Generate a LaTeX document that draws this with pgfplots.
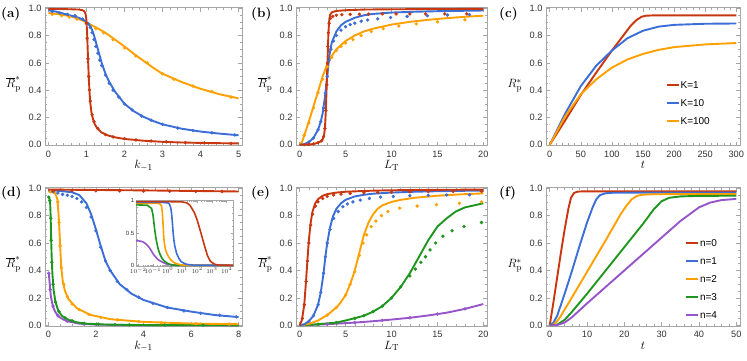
\documentclass[border=0pt]{standalone}
\usepackage{fontspec}
\newfontfamily\sans{Liberation Sans}
\usepackage{pgfplots}
\pgfplotsset{compat=1.18}

\definecolor{cR}{RGB}{200,55,15}
\definecolor{cB}{RGB}{60,110,215}
\definecolor{cO}{RGB}{255,160,0}
\definecolor{cG}{RGB}{30,150,30}
\definecolor{cP}{RGB}{150,85,200}

\pgfplotsset{
  panel/.style={
    scale only axis, anchor=south west,
    ymin=-0.005, ymax=1.005,
    ytick={0,0.2,0.4,0.6,0.8,1},
    yticklabels={0.0,0.2,0.4,0.6,0.8,1.0},
    minor y tick num=3,
    tick align=inside,
    major tick length=4pt, minor tick length=2.2pt,
    axis line style={black!35},
    every tick/.append style={black!35, line width=0.5pt},
    tick label style={font=\sans\fontsize{9.2}{10}\selectfont, text=black!80},
    xticklabel style={yshift=-2pt},
    label style={font=\fontsize{12.5}{15}\selectfont},
    xlabel style={at={(axis description cs:0.5,0)}, anchor=base, yshift=-23pt},
    ylabel style={rotate=-90, at={(axis description cs:-0.105,0.42)}, anchor=base east},
    legend style={draw=none, fill=none, anchor=north west,
      font=\sans\fontsize{10}{11}\selectfont, row sep=9pt,
      nodes={inner sep=1pt, text height=7pt, text depth=0pt}},
    legend cell align=left,
    legend image code/.code={\draw[##1, line width=2pt] (0pt,0pt) -- (12pt,0pt);},
  },
  ln/.style={line width=1.9pt, line join=round, mark=none},
  dt/.style={only marks, mark=*, mark size=1.5pt, forget plot},
}

\begin{document}
\begin{tikzpicture}
\useasboundingbox (0pt,0pt) rectangle (747pt,-360pt);

% ---------------- (a)
\begin{axis}[panel, at={(45pt,-145.5pt)}, width=197pt, height=138pt,
  xmin=-0.09, xmax=5.09, xtick={0,1,2,3,4,5}, xticklabels={0,1,2,3,4,5},
  minor x tick num=4,
  xlabel={$k_{-1}$}, ylabel={$\overline{R}^{*}_{\mathrm{p}}$}]
\addplot[ln, cO] coordinates {(0,0.965)(0.3,0.955)(0.6,0.94)(0.9,0.91)(1.0,0.895)(1.25,0.86)(1.5,0.82)(1.75,0.77)(2,0.72)(2.25,0.665)(2.5,0.615)(2.75,0.565)(3,0.52)(3.5,0.46)(4,0.41)(4.5,0.37)(5,0.34)};
\addplot[ln, cB] coordinates {(0,0.985)(0.2,0.975)(0.4,0.96)(0.6,0.945)(0.8,0.93)(0.95,0.91)(1.05,0.885)(1.1,0.87)(1.15,0.84)(1.2,0.8)(1.3,0.7)(1.4,0.6)(1.5,0.52)(1.6,0.46)(1.75,0.39)(2,0.3)(2.25,0.245)(2.5,0.205)(2.75,0.175)(3,0.15)(3.5,0.118)(4,0.097)(4.5,0.082)(5,0.07)};
\addplot[ln, cR] coordinates {(0,0.995)(0.3,0.994)(0.6,0.992)(0.8,0.99)(0.9,0.985)(0.95,0.975)(0.98,0.955)(1.0,0.91)(1.02,0.8)(1.04,0.64)(1.06,0.5)(1.08,0.39)(1.1,0.31)(1.13,0.24)(1.17,0.19)(1.22,0.15)(1.3,0.115)(1.4,0.09)(1.55,0.07)(1.75,0.055)(2,0.043)(2.5,0.03)(3,0.022)(3.5,0.017)(4,0.014)(4.5,0.012)(5,0.01)};
\addplot[dt, cO] coordinates {(0.1,0.955)(0.35,0.945)(0.55,0.935)(0.75,0.92)(1.0,0.885)(1.25,0.85)(1.45,0.82)(1.7,0.77)(2.0,0.71)(2.3,0.65)(2.6,0.6)(3.0,0.52)(3.3,0.48)(3.8,0.43)(4.3,0.39)(4.8,0.35)};
\addplot[dt, cB] coordinates {(0.1,0.975)(0.3,0.965)(0.5,0.955)(0.7,0.945)(0.9,0.92)(1.05,0.885)(1.1,0.86)(1.15,0.82)(1.2,0.77)(1.25,0.72)(1.3,0.67)(1.35,0.62)(1.4,0.58)(1.5,0.51)(1.6,0.45)(1.7,0.4)(1.85,0.35)(2,0.3)(2.2,0.255)(2.45,0.21)(2.7,0.18)(3,0.15)(3.4,0.123)(3.8,0.104)(4.3,0.088)(4.9,0.072)};
\addplot[dt, cR] coordinates {(1.0,0.89)(1.02,0.78)(1.04,0.63)(1.06,0.5)(1.08,0.4)(1.1,0.32)(1.15,0.22)(1.2,0.17)(1.3,0.12)(1.5,0.075)(1.7,0.058)(2,0.045)(2.3,0.036)(2.7,0.028)(3.1,0.022)(3.6,0.017)(4.1,0.014)(4.8,0.011)};
\end{axis}

% ---------------- (b)
\begin{axis}[panel, at={(296pt,-145.5pt)}, width=191pt, height=138pt,
  xmin=-0.4, xmax=20.4, xtick={0,5,10,15,20}, xticklabels={0,5,10,15,20},
  minor x tick num=4,
  xlabel={$L_{\mathrm{T}}$}, ylabel={$\overline{R}^{*}_{\mathrm{p}}$}]
\addplot[ln, cO] coordinates {(0,0)(0.25,0.02)(0.5,0.07)(1,0.17)(1.5,0.28)(2,0.39)(2.5,0.5)(3,0.59)(3.5,0.65)(4,0.7)(5,0.76)(6,0.8)(7,0.83)(8,0.85)(10,0.88)(12,0.9)(14,0.915)(16,0.927)(18,0.937)(20,0.945)};
\addplot[ln, cB] coordinates {(0,0)(0.5,0.005)(1,0.02)(1.5,0.05)(2,0.11)(2.3,0.17)(2.5,0.23)(2.75,0.35)(3,0.5)(3.1,0.57)(3.25,0.66)(3.5,0.75)(4,0.83)(4.5,0.875)(5,0.9)(6,0.93)(7,0.948)(8,0.958)(10,0.968)(12.5,0.974)(15,0.978)(20,0.983)};
\addplot[ln, cR] coordinates {(0,0)(1,0.002)(1.5,0.006)(2,0.015)(2.3,0.025)(2.5,0.04)(2.65,0.07)(2.75,0.12)(2.85,0.25)(2.95,0.45)(3.05,0.65)(3.12,0.8)(3.2,0.9)(3.3,0.95)(3.5,0.97)(4,0.98)(5,0.985)(7,0.99)(10,0.992)(15,0.994)(20,0.995)};
\addplot[dt, cO] coordinates {(0.5,0.07)(1,0.16)(1.5,0.27)(2,0.38)(2.5,0.48)(3,0.57)(3.5,0.64)(4,0.69)(4.5,0.72)(5,0.745)(5.8,0.77)(6.7,0.8)(7.8,0.83)(9.1,0.85)(10.8,0.87)(12.7,0.885)(15,0.9)(18,0.915)};
\addplot[dt, cB] coordinates {(1,0.02)(1.5,0.05)(2,0.11)(2.3,0.17)(2.6,0.27)(2.8,0.38)(3,0.5)(3.2,0.62)(3.4,0.7)(3.7,0.76)(4,0.8)(4.5,0.84)(5,0.865)(5.5,0.88)(6,0.89)(6.7,0.905)(7.4,0.913)(8.5,0.922)(9.9,0.932)(11.7,0.94)(13.9,0.945)(16.1,0.95)(18.5,0.953)};
\addplot[dt, cR] coordinates {(0.5,0.001)(1,0.003)(1.5,0.007)(2,0.016)(2.4,0.03)(2.6,0.06)(2.75,0.12)(2.85,0.25)(2.95,0.44)(3.03,0.6)(3.08,0.72)(3.13,0.82)(3.2,0.89)(3.35,0.925)(3.6,0.94)(4,0.948)(4.6,0.952)(5.5,0.955)(6.5,0.956)(7.5,0.957)(9,0.958)(10.5,0.958)(12,0.958)(13.7,0.958)(15.8,0.958)(18.2,0.958)};
\end{axis}

% ---------------- (c)
\begin{axis}[panel, at={(546pt,-145.5pt)}, width=194pt, height=138pt,
  xmin=-6, xmax=306, xtick={0,50,100,150,200,250,300},
  xticklabels={0,50,100,150,200,250,300}, minor x tick num=4,
  xlabel={$t$}, ylabel={$R^{*}_{\mathrm{p}}$},
  legend style={at={(axis description cs:0.6,0.49)}}]
\addplot[ln, cR] coordinates {(0,0)(25,0.18)(50,0.365)(75,0.53)(100,0.69)(115,0.78)(130,0.87)(140,0.915)(148,0.938)(155,0.945)(165,0.947)(300,0.947)};
\addlegendentry{K=1}
\addplot[ln, cB] coordinates {(0,0)(25,0.23)(50,0.43)(75,0.58)(100,0.69)(125,0.78)(150,0.835)(175,0.865)(200,0.878)(250,0.886)(300,0.888)};
\addlegendentry{K=10}
\addplot[ln, cO] coordinates {(0,0)(25,0.21)(50,0.37)(75,0.48)(100,0.565)(125,0.625)(150,0.665)(175,0.695)(200,0.715)(250,0.735)(300,0.745)};
\addlegendentry{K=100}
\end{axis}

% ---------------- (d)
\begin{axis}[panel, at={(45pt,-326pt)}, width=197pt, height=138.5pt,
  xmin=-0.14, xmax=8.14, xtick={0,2,4,6,8}, xticklabels={0,2,4,6,8},
  minor x tick num=3,
  xlabel={$k_{-1}$}, ylabel={$\overline{R}^{*}_{\mathrm{p}}$}]
\addplot[ln, cP] coordinates {(0.01,0.38)(0.03,0.36)(0.06,0.3)(0.1,0.22)(0.15,0.17)(0.22,0.125)(0.3,0.095)(0.43,0.065)(0.6,0.045)(0.8,0.03)(1.3,0.012)(2,0.005)(4,0.001)(8,0)};
\addplot[ln, cG] coordinates {(0.01,0.935)(0.04,0.93)(0.08,0.88)(0.1,0.78)(0.12,0.62)(0.14,0.5)(0.17,0.38)(0.22,0.26)(0.3,0.17)(0.43,0.1)(0.6,0.065)(0.85,0.04)(1.2,0.022)(1.6,0.012)(2.5,0.005)(4,0.002)(8,0)};
\addplot[ln, cO] coordinates {(0.01,0.975)(0.2,0.97)(0.3,0.96)(0.38,0.92)(0.43,0.81)(0.47,0.68)(0.5,0.57)(0.54,0.43)(0.6,0.33)(0.7,0.25)(0.85,0.19)(1.2,0.125)(1.75,0.077)(2.6,0.045)(4,0.025)(6,0.013)(8,0.008)};
\addplot[ln, cB] coordinates {(0,0.985)(0.5,0.98)(1,0.97)(1.3,0.95)(1.6,0.89)(1.8,0.81)(2,0.7)(2.2,0.58)(2.4,0.47)(2.6,0.4)(3,0.3)(3.5,0.23)(4,0.185)(5,0.13)(6,0.1)(7,0.075)(8,0.06)};
\addplot[ln, cR] coordinates {(0,0.99)(2,0.987)(4,0.984)(6,0.98)(8,0.976)};
\addplot[dt, cP] coordinates {(0.02,0.38)(0.08,0.26)(0.2,0.14)(0.4,0.07)(0.8,0.03)(1.5,0.01)};
\addplot[dt, cG] coordinates {(0.02,0.935)(0.06,0.91)(0.1,0.78)(0.12,0.62)(0.15,0.46)(0.2,0.3)(0.3,0.17)(0.45,0.1)(0.7,0.055)(1.0,0.033)(1.5,0.015)(2.1,0.008)(2.8,0.005)(3.4,0.003)(4.9,0.002)(6.5,0.001)};
\addplot[dt, cO] coordinates {(0.1,0.975)(0.25,0.97)(0.4,0.9)(0.45,0.75)(0.5,0.58)(0.55,0.42)(0.65,0.3)(0.8,0.21)(1.0,0.155)(1.3,0.115)(1.7,0.08)(2.2,0.058)(2.9,0.04)(3.8,0.027)(4.75,0.018)(6.2,0.012)(7.6,0.009)};
\addplot[dt, cB] coordinates {(0.2,0.975)(0.4,0.965)(0.6,0.955)(0.8,0.948)(1.0,0.94)(1.2,0.925)(1.4,0.9)(1.6,0.86)(1.8,0.79)(2.0,0.69)(2.2,0.57)(2.4,0.47)(2.6,0.4)(2.9,0.32)(3.3,0.26)(3.8,0.205)(4.4,0.16)(5,0.13)(5.7,0.105)(6.4,0.088)(7.2,0.074)(7.9,0.062)};
\addplot[dt, cR] coordinates {(0.2,0.982)(1,0.982)(2,0.981)(3,0.98)(4,0.979)(5.1,0.978)(6.2,0.977)(7.3,0.976)};
\end{axis}

% inset of (d)
\begin{axis}[scale only axis, anchor=south west, at={(136pt,-266pt)},
  width=97pt, height=66pt, xmode=log, xmin=0.007, xmax=27000,
  ymin=-0.01, ymax=1.01,
  axis background/.style={fill=white},
  xtick={0.01,0.1,1,10,100,1000,10000},
  xticklabels={$10^{-2}$,$10^{-1}$,$10^{0}$,$10^{1}$,$10^{2}$,$10^{3}$,$10^{4}$},
  ytick={0,0.5,1}, yticklabels={0,0.5,1}, minor y tick num=4,
  tick align=inside, major tick length=2.5pt, minor tick length=1.5pt,
  axis line style={black!35},
  every tick/.append style={black!35, line width=0.4pt},
  tick label style={font=\sans\fontsize{6}{7}\selectfont, text=black!80, inner sep=1.5pt},
  ]
\addplot[line width=1.6pt, cP] coordinates {(0.007,0.38)(0.01,0.38)(0.02,0.365)(0.03,0.34)(0.05,0.29)(0.08,0.22)(0.1,0.18)(0.15,0.13)(0.22,0.09)(0.3,0.07)(0.43,0.05)(0.6,0.035)(0.8,0.022)(1.3,0.01)(2,0.004)(4,0.001)(10,0)(27000,0)};
\addplot[line width=1.6pt, cG] coordinates {(0.007,0.935)(0.04,0.93)(0.08,0.88)(0.1,0.78)(0.12,0.62)(0.14,0.5)(0.17,0.38)(0.22,0.26)(0.3,0.17)(0.43,0.1)(0.6,0.065)(0.85,0.04)(1.2,0.022)(1.6,0.012)(2.5,0.005)(4,0.002)(10,0)(27000,0)};
\addplot[line width=1.6pt, cO] coordinates {(0.007,0.96)(0.2,0.958)(0.3,0.95)(0.38,0.92)(0.43,0.81)(0.47,0.68)(0.5,0.57)(0.54,0.43)(0.6,0.33)(0.7,0.25)(0.85,0.19)(1.2,0.125)(1.75,0.077)(2.6,0.045)(4,0.025)(8,0.008)(20,0.002)(27000,0)};
\addplot[line width=1.6pt, cB] coordinates {(0.007,0.975)(0.1,0.975)(0.5,0.972)(1,0.965)(1.3,0.95)(1.6,0.89)(1.8,0.81)(2,0.7)(2.2,0.58)(2.4,0.47)(2.6,0.4)(3,0.3)(4,0.185)(6,0.1)(8,0.06)(12,0.035)(20,0.015)(50,0.004)(27000,0)};
\addplot[line width=1.6pt, cR] coordinates {(0.007,0.985)(1,0.985)(10,0.98)(20,0.965)(32,0.93)(63,0.82)(100,0.7)(180,0.5)(316,0.3)(500,0.15)(800,0.06)(1600,0.015)(3000,0.004)(27000,0)};
\end{axis}

% ---------------- (e)
\begin{axis}[panel, at={(296pt,-326pt)}, width=191pt, height=138.5pt,
  xmin=-0.4, xmax=20.4, xtick={0,5,10,15,20}, xticklabels={0,5,10,15,20},
  minor x tick num=4,
  xlabel={$L_{\mathrm{T}}$}, ylabel={$\overline{R}^{*}_{\mathrm{p}}$}]
\addplot[ln, cP] coordinates {(0,0)(2,0.005)(4,0.012)(6,0.02)(8,0.03)(10,0.042)(12,0.055)(14,0.072)(16,0.092)(18,0.12)(20,0.155)};
\addplot[ln, cG] coordinates {(0,0)(2,0.008)(4,0.02)(5,0.035)(7,0.07)(8,0.1)(9,0.14)(10,0.2)(11,0.28)(12,0.38)(13,0.5)(14,0.62)(15,0.72)(16,0.78)(17,0.83)(18,0.86)(19,0.875)(20,0.89)};
\addplot[ln, cO] coordinates {(0,0)(1,0.01)(2,0.035)(3,0.075)(4,0.13)(4.5,0.17)(5,0.22)(5.5,0.3)(6,0.4)(6.5,0.53)(7,0.66)(7.5,0.75)(8,0.81)(8.5,0.85)(9,0.875)(10,0.9)(11,0.915)(12.5,0.93)(15,0.945)(17.5,0.955)(20,0.962)};
\addplot[ln, cB] coordinates {(0,0)(0.5,0.008)(1,0.03)(1.5,0.07)(2,0.15)(2.3,0.24)(2.6,0.38)(2.8,0.5)(3,0.6)(3.3,0.71)(3.6,0.79)(4,0.85)(4.5,0.89)(5,0.915)(6,0.94)(7,0.952)(8,0.96)(10,0.968)(12.5,0.974)(15,0.978)(20,0.983)};
\addplot[ln, cR] coordinates {(0,0)(0.25,0.04)(0.5,0.15)(0.7,0.33)(0.85,0.48)(1,0.62)(1.2,0.75)(1.4,0.83)(1.7,0.89)(2,0.92)(2.5,0.945)(3,0.957)(4,0.968)(5,0.974)(7,0.98)(10,0.985)(15,0.988)(20,0.99)};
\addplot[dt, cP] coordinates {(3,0.008)(6,0.02)(9,0.036)(12,0.055)(15,0.082)(18,0.12)};
\addplot[dt, cG] coordinates {(2,0.008)(4,0.02)(6,0.05)(7,0.07)(8,0.1)(9,0.14)(10,0.2)(11,0.28)(12,0.36)(12.6,0.41)(13.2,0.46)(13.7,0.5)(14.2,0.55)(14.8,0.6)(15.6,0.65)(16.6,0.69)(17.9,0.72)(19.8,0.75)};
\addplot[dt, cO] coordinates {(3,0.075)(4,0.13)(5,0.22)(5.5,0.3)(6,0.39)(6.5,0.51)(6.9,0.6)(7.3,0.66)(7.8,0.72)(8.3,0.76)(8.9,0.8)(9.6,0.83)(10.9,0.855)(12.8,0.87)(14.9,0.88)(17.4,0.89)(19.8,0.9)};
\addplot[dt, cB] coordinates {(1,0.03)(1.5,0.07)(2,0.15)(2.3,0.24)(2.6,0.38)(2.8,0.5)(3,0.6)(3.3,0.7)(3.7,0.78)(4.2,0.83)(4.7,0.865)(5.2,0.885)(5.8,0.9)(6.6,0.913)(7.6,0.925)(8.8,0.935)(10.2,0.94)(12,0.945)(14,0.948)(16,0.95)(18.5,0.952)};
\addplot[dt, cR] coordinates {(0.3,0.05)(0.5,0.15)(0.7,0.32)(0.85,0.47)(1,0.6)(1.2,0.73)(1.4,0.81)(1.7,0.87)(2,0.9)(2.5,0.925)(3,0.94)(3.7,0.95)(4.5,0.957)(5.5,0.962)(7,0.967)(8.5,0.97)(10,0.972)(12,0.974)(14,0.975)(16.7,0.976)(19.8,0.977)};
\end{axis}

% ---------------- (f)
\begin{axis}[panel, at={(546pt,-326pt)}, width=194pt, height=138.5pt,
  xmin=-1, xmax=51, xtick={0,10,20,30,40,50}, xticklabels={0,10,20,30,40,50},
  minor x tick num=4,
  xlabel={$t$}, ylabel={$R^{*}_{\mathrm{p}}$},
  legend style={at={(axis description cs:0.7,0.65)}}]
\addplot[ln, cR] coordinates {(0,0)(1,0.17)(2,0.35)(3,0.53)(4,0.7)(5,0.85)(5.7,0.93)(6.5,0.965)(7.5,0.975)(9,0.977)(50,0.977)};
\addlegendentry{n=0}
\addplot[ln, cB] coordinates {(0,0)(1,0.02)(2,0.07)(3,0.15)(4,0.23)(6,0.4)(8,0.58)(10,0.75)(11.5,0.86)(12.5,0.92)(13.5,0.95)(15,0.963)(17,0.967)(50,0.968)};
\addlegendentry{n=1}
\addplot[ln, cO] coordinates {(0,0)(1,0.005)(2,0.03)(3,0.07)(5,0.16)(10,0.39)(15,0.62)(19,0.81)(20.5,0.87)(22,0.92)(23.5,0.945)(25,0.953)(28,0.956)(50,0.958)};
\addlegendentry{n=2}
\addplot[ln, cG] coordinates {(0,0)(2,0.005)(4,0.04)(6,0.1)(10,0.23)(15,0.4)(20,0.57)(25,0.74)(28,0.85)(30,0.905)(32,0.93)(35,0.94)(40,0.944)(50,0.945)};
\addlegendentry{n=3}
\addplot[ln, cP] coordinates {(0,0)(2,0.002)(4,0.02)(6,0.06)(10,0.16)(15,0.28)(20,0.4)(25,0.52)(30,0.64)(35,0.76)(40,0.86)(43,0.895)(46,0.913)(50,0.922)};
\addlegendentry{n=4}
\end{axis}

% panel letters
\begin{scope}[every node/.style={anchor=base west, font=\bfseries\fontsize{13.5}{15}\selectfont, inner sep=0pt}]
\node at (1pt,-17pt) {(a)};
\node at (251pt,-17pt) {(b)};
\node at (499pt,-17pt) {(c)};
\node at (1pt,-196pt) {(d)};
\node at (251pt,-196pt) {(e)};
\node at (499pt,-196pt) {(f)};
\end{scope}
\end{tikzpicture}
\end{document}
